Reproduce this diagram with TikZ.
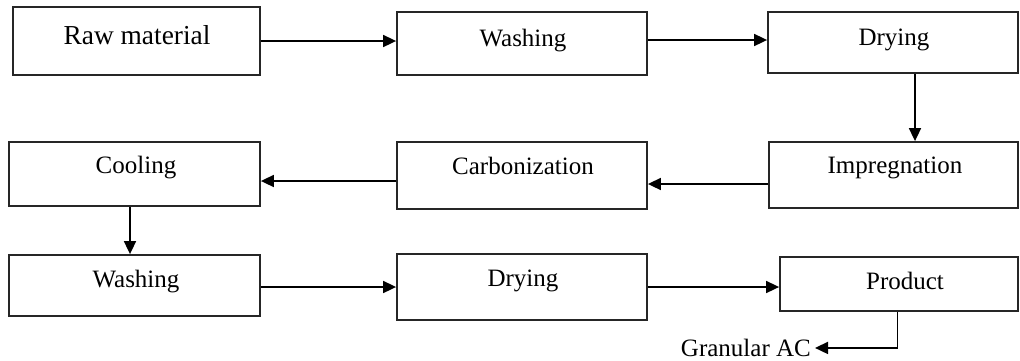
\documentclass[tikz,border=0pt]{standalone}
\usepackage{fontspec}
\setmainfont{Liberation Serif}
\usetikzlibrary{arrows.meta}
\begin{document}
\begin{tikzpicture}[x=1pt,y=-1pt,
  box/.style={draw=black!85, line width=1.8pt, inner sep=0pt},
  txt/.style={font=\fontsize{25}{30}\selectfont, inner sep=0pt, anchor=base},
  bigtxt/.style={font=\fontsize{27.4}{32}\selectfont, inner sep=0pt, anchor=base},
  arr/.style={line width=1.7pt, -{Triangle[length=13pt,width=12pt]}}]
\useasboundingbox (0,0) rectangle (1020,360);
% boxes
\node[box, minimum width=247pt, minimum height=68pt] (raw) at (136.5,41) {};
\node[box, minimum width=250pt, minimum height=63pt] (wash1) at (522,43.5) {};
\node[box, minimum width=250pt, minimum height=61pt] (dry1) at (893,42.5) {};
\node[box, minimum width=249pt, minimum height=66pt] (impr) at (893.5,175) {};
\node[box, minimum width=250pt, minimum height=67pt] (carb) at (522,175.5) {};
\node[box, minimum width=251pt, minimum height=64pt] (cool) at (134.5,174) {};
\node[box, minimum width=251pt, minimum height=61pt] (wash2) at (134.5,285.5) {};
\node[box, minimum width=250pt, minimum height=66pt] (dry2) at (522,287) {};
\node[box, minimum width=238pt, minimum height=54pt] (prod) at (899,284) {};
% texts
\node[bigtxt] (rawt) at (137,44) {Raw material};
\node[txt] (wash1t) at (523,46) {Washing};
\node[txt] (dry1t) at (894,45) {Drying};
\node[txt] (imprt) at (895,173) {Impregnation};
\node[txt] (carbt) at (523,174) {Carbonization};
\node[txt] (coolt) at (136,173) {Cooling};
\node[txt] (wash2t) at (136,287) {Washing};
\node[txt] (dry2t) at (523,286) {Drying};
\node[txt] (prodt) at (905,289) {Product};
\node[txt, anchor=base east] (gac) at (811,356.5) {Granular AC};
% connectors
\draw[arr] (raw.east) -- (raw.east -| wash1.west);
\draw[arr] ([yshift=3.5pt]wash1.east) -- ([yshift=3.5pt]wash1.east -| dry1.west);
\draw[arr] ([xshift=22pt]dry1.south) -- ([xshift=22pt]dry1.south |- impr.north);
\draw[arr] ([yshift=-9pt]impr.west) -- ([yshift=-9pt]impr.west -| carb.east);
\draw[arr] ([yshift=-5.5pt]carb.west) -- ([yshift=-5.5pt]carb.west -| cool.east);
\draw[arr] ([xshift=-4.5pt]cool.south) -- ([xshift=-4.5pt]cool.south |- wash2.north);
\draw[arr] ([yshift=-1.5pt]wash2.east) -- ([yshift=-1.5pt]wash2.east -| dry2.west);
\draw[arr] (dry2.east) -- (dry2.east -| prod.west);
\draw[arr] ([xshift=-1.5pt]prod.south) |- ([xshift=4pt]gac.east);
\end{tikzpicture}
\end{document}
